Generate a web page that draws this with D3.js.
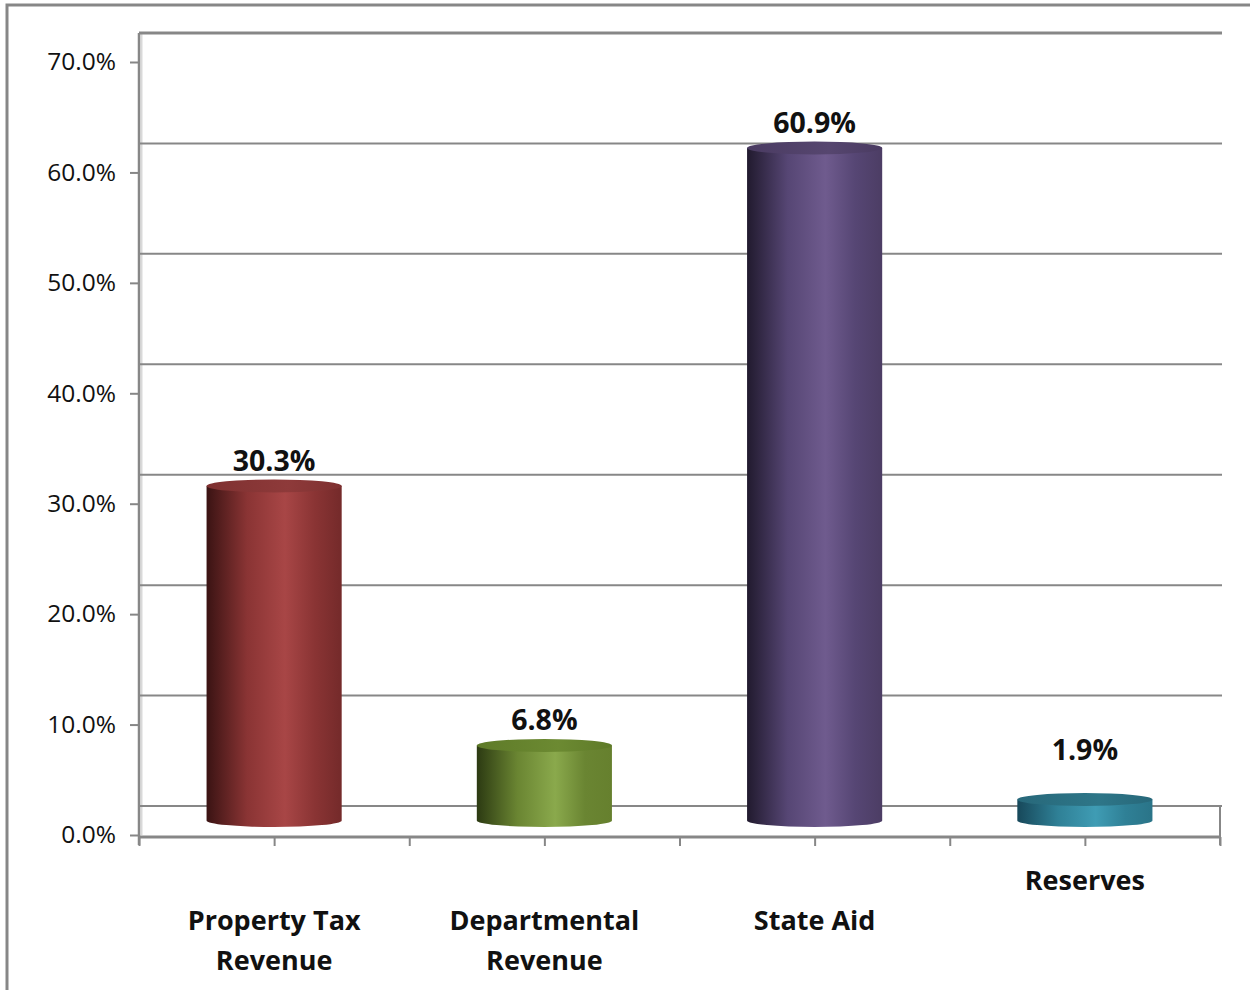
<!DOCTYPE html>
<html>
<head>
<meta charset="utf-8">
<script src="https://cdn.jsdelivr.net/npm/d3@7"></script>
<style>
  html, body { margin: 0; padding: 0; background: #fff; }
  svg { display: block; }
  text { font-family: "Open Sans", "Noto Sans", sans-serif; }
</style>
</head>
<body>
<svg id="chart" width="1250" height="990"></svg>
<script>
// ---- data ----
const categories = ["Property Tax Revenue", "Departmental Revenue", "State Aid", "Reserves"];
const categoryLabelLines = [
  ["", "Property Tax", "Revenue"],
  ["", "Departmental", "Revenue"],
  ["", "State Aid"],
  ["Reserves"]
];
const values = [30.3, 6.8, 60.9, 1.9];
const valueLabels = ["30.3%", "6.8%", "60.9%", "1.9%"];
const yTicks = [0, 10, 20, 30, 40, 50, 60, 70];
const yTickLabels = ["0.0%", "10.0%", "20.0%", "30.0%", "40.0%", "50.0%", "60.0%", "70.0%"];

// ---- styles ----
const palettes = [
  { left: "#3a1313", mid: "#8a3434", hi: "#a84646", right: "#742a2a", top: "#7e3030", topHi: "#8e3a3a" },
  { left: "#2c3a12", mid: "#6a8532", hi: "#8aa94c", right: "#66802e", top: "#5e7a28", topHi: "#6c8a32" },
  { left: "#211a2e", mid: "#564674", hi: "#6f5b8e", right: "#4c3d64", top: "#4a3b62", topHi: "#56466f" },
  { left: "#17485a", mid: "#2f8096", hi: "#3f9cb4", right: "#2a7488", top: "#27687a", topHi: "#2e7688" }
];

const svg = d3.select("#chart");
const W = 1250, H = 990;
const left = 139, right = 1220;
const depth = 29;

const y = d3.scaleLinear().domain([0, 70]).range([835, 62]);
const x = d3.scaleBand().domain(categories).range([left, right]).paddingInner(0.5).paddingOuter(0.25);

// outer frame
svg.append("rect").attr("x", 7).attr("y", 5).attr("width", W + 20).attr("height", H + 20)
  .attr("fill", "#fff").attr("stroke", "#878787").attr("stroke-width", 3);

// defs for gradients
const defs = svg.append("defs");
palettes.forEach((p, i) => {
  const g = defs.append("linearGradient").attr("id", "body" + i)
    .attr("x1", "0").attr("x2", "1").attr("y1", "0").attr("y2", "0");
  [[0, p.left], [0.3, p.mid], [0.58, p.hi], [0.8, p.mid], [1, p.right]].forEach(s =>
    g.append("stop").attr("offset", s[0]).attr("stop-color", s[1]));
  const t = defs.append("linearGradient").attr("id", "top" + i)
    .attr("x1", "0").attr("x2", "1").attr("y1", "0").attr("y2", "0");
  [[0, p.top], [0.6, p.topHi], [1, p.top]].forEach(s =>
    t.append("stop").attr("offset", s[0]).attr("stop-color", s[1]));
});

// left wall light edge
svg.append("line").attr("x1", left + 2.5).attr("x2", left + 2.5)
  .attr("y1", y(70) - depth).attr("y2", y(0))
  .attr("stroke", "#d9d9d9").attr("stroke-width", 2);

// back-wall gridlines
svg.append("g").selectAll("line").data(yTicks).join("line")
  .attr("x1", left).attr("x2", right + 2)
  .attr("y1", d => y(d) - depth).attr("y2", d => y(d) - depth)
  .attr("stroke", "#878787")
  .attr("stroke-width", d => d === 70 ? 3 : 2);

// floor right edge
svg.append("line").attr("x1", right).attr("x2", right)
  .attr("y1", y(0) - depth).attr("y2", y(0) + 10)
  .attr("stroke", "#878787").attr("stroke-width", 2);

// y axis
const yAxis = svg.append("g").attr("transform", `translate(${left},0)`)
  .call(d3.axisLeft(y).tickValues(yTicks).tickSize(9).tickPadding(14)
    .tickFormat((d, i) => yTickLabels[i]));
yAxis.select(".domain").attr("d", `M0,${y(70) - depth}V${y(0) + 10}`)
  .attr("stroke", "#878787").attr("stroke-width", 2.5);
yAxis.selectAll(".tick line").attr("stroke", "#878787").attr("stroke-width", 2);
yAxis.selectAll(".tick text").attr("font-size", 24.5).attr("fill", "#111")
  .attr("font-family", "'Open Sans', sans-serif");

// bottom axis (floor front edge)
const halfSteps = [];
x.domain().forEach(c => {
  halfSteps.push(x(c) - x.step() * 0.25);
  halfSteps.push(x(c) + x.bandwidth() / 2);
});
halfSteps.push(right);
const xb = d3.scaleLinear().domain([left, right]).range([left, right]);
const xAxis = svg.append("g").attr("transform", `translate(0,${y(0) + 2})`)
  .call(d3.axisBottom(xb).tickValues(halfSteps).tickSize(9).tickFormat(""));
xAxis.select(".domain").attr("d", `M${left},0H${right}`)
  .attr("stroke", "#878787").attr("stroke-width", 3);
xAxis.selectAll(".tick line").attr("stroke", "#878787").attr("stroke-width", 2);

// cylinders
const ry = 6.5;
const mid = v => y(v) - depth / 2;
const bars = svg.append("g").selectAll("g").data(values).join("g");
bars.append("path")
  .attr("d", (d, i) => {
    const x0 = x(categories[i]), x1 = x0 + x.bandwidth(), rx = x.bandwidth() / 2;
    const yT = mid(d), yB = mid(0);
    return `M${x0},${yT}L${x0},${yB}A${rx},${ry} 0 0 0 ${x1},${yB}L${x1},${yT}Z`;
  })
  .attr("fill", (d, i) => `url(#body${i})`);
bars.append("ellipse")
  .attr("cx", (d, i) => x(categories[i]) + x.bandwidth() / 2)
  .attr("cy", d => mid(d))
  .attr("rx", x.bandwidth() / 2).attr("ry", ry)
  .attr("fill", (d, i) => `url(#top${i})`);

// value labels
svg.append("g").selectAll("text").data(values).join("text")
  .attr("x", (d, i) => x(categories[i]) + x.bandwidth() / 2)
  .attr("y", d => Math.min(mid(d) - 26, mid(0) - 72))
  .attr("text-anchor", "middle").attr("dominant-baseline", "central")
  .attr("font-size", 28.5).attr("font-weight", "bold").attr("fill", "#111")
  .text((d, i) => valueLabels[i]);

// category labels
const catG = svg.append("g").selectAll("text").data(categories).join("text")
  .attr("x", c => x(c) + x.bandwidth() / 2)
  .attr("text-anchor", "middle")
  .attr("font-size", 27).attr("font-weight", "bold").attr("fill", "#111");
catG.each(function (c, i) {
  const t = d3.select(this);
  categoryLabelLines[i].forEach((line, k) => {
    t.append("tspan").attr("x", x(c) + x.bandwidth() / 2)
      .attr("y", 879 + k * 40).attr("dominant-baseline", "central").text(line);
  });
});
</script>
</body>
</html>
